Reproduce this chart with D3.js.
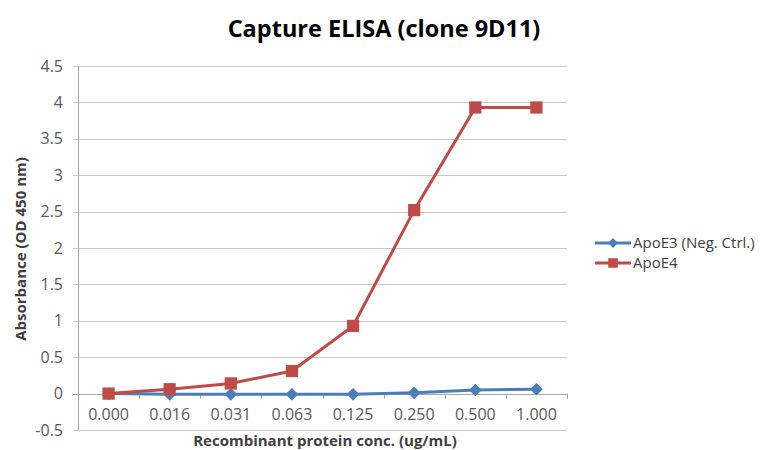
<!DOCTYPE html>
<html>
<head>
<meta charset="utf-8">
<script src="https://cdn.jsdelivr.net/npm/d3@7"></script>
<style>
  body { margin: 0; background: #fff; }
  text { font-family: "Open Sans", "Liberation Sans", sans-serif; }
</style>
</head>
<body>
<svg width="764" height="450"></svg>
<script>
var svg = d3.select("svg"),
    width = +svg.attr("width"),
    height = +svg.attr("height");

// data
var concLabels = ["0.000", "0.016", "0.031", "0.063", "0.125", "0.250", "0.500", "1.000"];
var apoE3 = [0, -0.01, -0.01, -0.01, -0.01, 0.01, 0.05, 0.06];
var apoE4 = [0, 0.06, 0.14, 0.31, 0.93, 2.52, 3.93, 3.93];
var yTicks = [-0.5, 0, 0.5, 1, 1.5, 2, 2.5, 3, 3.5, 4, 4.5];

// plot box (don't use "top" as a global name, it clashes with window.top)
var plotLeft = 78, plotRight = 567, plotTop = 66, plotBottom = 430;

var x = d3.scaleBand()
    .domain(concLabels)
    .range([plotLeft, plotRight]);

var y = d3.scaleLinear()
    .domain([-0.5, 4.5])
    .range([plotBottom, plotTop]);

// gridlines
svg.append("g")
  .selectAll("line")
  .data(yTicks)
  .enter()
  .append("line")
    .attr("x1", plotLeft - 5)
    .attr("x2", plotRight)
    .attr("y1", function(d){ return Math.round(y(d)) + 0.5 })
    .attr("y2", function(d){ return Math.round(y(d)) + 0.5 })
    .style("stroke", function(d){ return d == 0 ? "#a6a6a6" : "#c8c8c8" })

// y axis line
svg.append("line")
    .attr("x1", plotLeft + 0.5).attr("x2", plotLeft + 0.5)
    .attr("y1", plotTop).attr("y2", plotBottom)
    .style("stroke", "#a6a6a6")

// y tick labels
svg.append("g")
  .selectAll("text")
  .data(yTicks)
  .enter()
  .append("text")
    .attr("x", plotLeft - 15)
    .attr("y", function(d){ return y(d) })
    .attr("dy", "0.35em")
    .attr("text-anchor", "end")
    .style("font-size", "16px")
    .style("fill", "#595959")
    .text(function(d){ return d })

// x ticks on the zero line
var xTickPos = concLabels.map(function(d){ return x(d) }).concat([plotRight]);
svg.append("g")
  .selectAll("line")
  .data(xTickPos)
  .enter()
  .append("line")
    .attr("x1", function(d){ return Math.round(d) + 0.5 })
    .attr("x2", function(d){ return Math.round(d) + 0.5 })
    .attr("y1", y(0))
    .attr("y2", y(0) + 5)
    .style("stroke", "#a6a6a6")

// x tick labels
svg.append("g")
  .selectAll("text")
  .data(concLabels)
  .enter()
  .append("text")
    .attr("x", function(d){ return x(d) + x.bandwidth()/2 })
    .attr("y", y(0) + 26)
    .attr("text-anchor", "middle")
    .style("font-size", "16px")
    .style("fill", "#595959")
    .text(function(d){ return d })

// series: diamond = square turned 45deg, like the spreadsheet markers
var series = [
  {name: "ApoE3 (Neg. Ctrl.)", values: apoE3, color: "#4a7ebb", rot: 45, size: 80},
  {name: "ApoE4", values: apoE4, color: "#be4b48", rot: 0, size: 150}
];

var line = d3.line()
    .x(function(d, i){ return x(concLabels[i]) + x.bandwidth()/2 })
    .y(function(d){ return y(d) });

series.forEach(function(s){
  svg.append("path")
      .datum(s.values)
      .attr("d", line)
      .attr("fill", "none")
      .attr("stroke", s.color)
      .attr("stroke-width", 3)

  svg.append("g")
    .selectAll("path")
    .data(s.values)
    .enter()
    .append("path")
      .attr("transform", function(d, i){ return "translate(" + (x(concLabels[i]) + x.bandwidth()/2) + "," + y(d) + ") rotate(" + s.rot + ")" })
      .attr("d", d3.symbol().type(d3.symbolSquare).size(s.size))
      .attr("fill", s.color)
});

// legend
var legend = svg.append("g")
  .selectAll("g")
  .data(series)
  .enter()
  .append("g")
    .attr("transform", function(d, i){ return "translate(595," + (243 + i*20) + ")" })

legend.append("line")
    .attr("x1", 0).attr("x2", 36)
    .attr("stroke", function(d){ return d.color })
    .attr("stroke-width", 3)
legend.append("path")
    .attr("transform", function(d){ return "translate(18,0) rotate(" + d.rot + ")" })
    .attr("d", function(d){ return d3.symbol().type(d3.symbolSquare).size(d.size*0.6)() })
    .attr("fill", function(d){ return d.color })
legend.append("text")
    .attr("x", 38)
    .attr("dy", "0.35em")
    .style("font-size", "15px")
    .style("fill", "#404040")
    .text(function(d){ return d.name })

// titles
svg.append("text")
    .attr("x", 384)
    .attr("y", 37)
    .attr("text-anchor", "middle")
    .style("font-size", "23.5px")
    .style("font-weight", "bold")
    .style("fill", "#000")
    .text("Capture ELISA (clone 9D11)")

svg.append("text")
    .attr("x", 325)
    .attr("y", 446)
    .attr("text-anchor", "middle")
    .style("font-size", "15px")
    .style("font-weight", "bold")
    .style("fill", "#404040")
    .text("Recombinant protein conc. (ug/mL)")

svg.append("text")
    .attr("transform", "translate(26,249) rotate(-90)")
    .attr("text-anchor", "middle")
    .style("font-size", "15px")
    .style("font-weight", "bold")
    .style("fill", "#404040")
    .text("Absorbance (OD 450 nm)")
</script>
</body>
</html>
